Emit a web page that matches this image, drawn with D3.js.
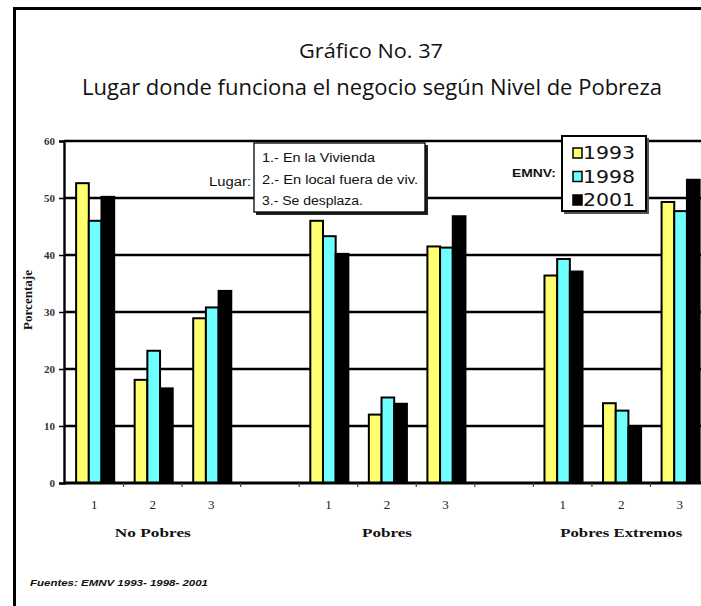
<!DOCTYPE html>
<html>
<head>
<meta charset="utf-8">
<script src="https://cdn.jsdelivr.net/npm/d3@7"></script>
<style>
  html, body { margin: 0; padding: 0; background: #fff; overflow: hidden; }
  svg { display: block; }
</style>
</head>
<body>
<svg id="chart" width="701" height="606"></svg>
<script>
// Poverty level groups and business location (1 = dwelling, 2 = separate premises, 3 = mobile)
const groups = ["No Pobres", "Pobres", "Pobres Extremos"];
const lugares = ["1", "2", "3"];
const years = ["1993", "1998", "2001"];
const yearColors = ["#ffff70", "#70ffff", "#000000"];

// Percentages, ordered group by group, lugar 1..3 within each group
const v1993 = [52.6, 18.1, 28.9, 46.0, 12.0, 41.5, 36.4, 14.0, 49.3];
const v1998 = [46.0, 23.2, 30.8, 43.3, 15.0, 41.3, 39.3, 12.7, 47.7];
const v2001 = [50.2, 16.6, 33.7, 40.2, 13.9, 46.8, 37.1, 9.8, 53.2];

const yTicks = [0, 10, 20, 30, 40, 50, 60];
const lugarLabels = ["1.- En la Vivienda", "2.- En local fuera de viv.", "3.- Se desplaza."];

const title1 = "Gráfico No. 37";
const title2 = "Lugar donde funciona el negocio según Nivel de Pobreza";
const source = "Fuentes: EMNV 1993- 1998- 2001";

const svg = d3.select("#chart");
const serif = "'Liberation Serif', 'DejaVu Serif', serif";
const sans = "'Liberation Sans', Arial, sans-serif";

// Outer frame (top and left edges visible)
svg.append("line").attr("x1", 14.5).attr("x2", 701).attr("y1", 8.5).attr("y2", 8.5)
  .attr("stroke", "#000").attr("stroke-width", 3);
svg.append("line").attr("x1", 14.5).attr("x2", 14.5).attr("y1", 7).attr("y2", 606)
  .attr("stroke", "#000").attr("stroke-width", 3);

// Titles
svg.append("text").attr("x", 371).attr("y", 58).attr("text-anchor", "middle")
  .attr("font-family", "'Open Sans', sans-serif").attr("font-size", 20).attr("fill", "#111")
  .attr("textLength", 144).attr("lengthAdjust", "spacingAndGlyphs")
  .text(title1);
svg.append("text").attr("x", 372).attr("y", 95).attr("text-anchor", "middle")
  .attr("font-family", "'Open Sans', sans-serif").attr("font-size", 21).attr("fill", "#111")
  .attr("textLength", 580).attr("lengthAdjust", "spacingAndGlyphs")
  .text(title2);

// Slot layout: three lugares per group with an empty slot between groups
const slots = [];
groups.forEach((g, gi) => {
  lugares.forEach(l => slots.push(`${gi}-${l}`));
  if (gi < groups.length - 1) slots.push(`gap-${gi}`);
});

const rows = [];
groups.forEach((g, gi) => {
  lugares.forEach((l, li) => {
    const i = gi * lugares.length + li;
    rows.push({ slot: `${gi}-${l}`, lugar: l, values: [v1993[i], v1998[i], v2001[i]] });
  });
});

const x = d3.scaleBand().domain(slots).range([65, 709]).paddingInner(0).paddingOuter(0);
const xInner = d3.scaleBand().domain(years)
  .range([x.bandwidth() * 0.19, x.bandwidth() * 0.84]).padding(0);
const y = d3.scaleLinear().domain([0, 60]).range([483, 141]);

const plotLeft = 64, plotRight = 701;

// Horizontal gridlines
svg.append("g").selectAll("line").data(yTicks.filter(t => t > 0)).join("line")
  .attr("x1", plotLeft).attr("x2", plotRight)
  .attr("y1", d => y(d)).attr("y2", d => y(d))
  .attr("stroke", "#000").attr("stroke-width", 2.6);

// Bars
const slotG = svg.append("g").selectAll("g").data(rows).join("g")
  .attr("transform", d => `translate(${x(d.slot)},0)`);
slotG.selectAll("rect").data(d => d.values.map((v, k) => ({ year: years[k], v, k }))).join("rect")
  .attr("x", d => xInner(d.year))
  .attr("y", d => y(d.v))
  .attr("width", xInner.bandwidth())
  .attr("height", d => y(0) - y(d.v))
  .attr("fill", d => yearColors[d.k])
  .attr("stroke", "#000").attr("stroke-width", 2);

// Y axis
const yAxis = d3.axisLeft(y).tickValues(yTicks).tickSize(5).tickPadding(4);
const gy = svg.append("g").attr("transform", `translate(${plotLeft},0)`).call(yAxis);
gy.select(".domain").attr("stroke", "#000").attr("stroke-width", 2.4);
gy.selectAll(".tick line").attr("stroke", "#000").attr("stroke-width", 1.5);
gy.selectAll(".tick text").attr("font-family", serif).attr("font-size", 11)
  .attr("font-weight", "bold").attr("fill", "#333");

// X axis line with small separators between slots
svg.append("line").attr("x1", plotLeft).attr("x2", plotRight)
  .attr("y1", y(0)).attr("y2", y(0)).attr("stroke", "#000").attr("stroke-width", 3);
svg.append("g").selectAll("line").data(slots.slice(1)).join("line")
  .attr("x1", d => x(d)).attr("x2", d => x(d))
  .attr("y1", y(0)).attr("y2", y(0) + 4)
  .attr("stroke", "#444").attr("stroke-width", 1.2);

// Lugar numbers under each slot
svg.append("g").selectAll("text").data(rows).join("text")
  .attr("x", d => x(d.slot) + x.bandwidth() / 2)
  .attr("y", 509)
  .attr("text-anchor", "middle")
  .attr("font-family", serif).attr("font-size", 13).attr("fill", "#222")
  .text(d => d.lugar);

// Group names
const groupWidths = [76, 50, 122];
svg.append("g").selectAll("text").data(groups).join("text")
  .attr("x", (g, gi) => x(`${gi}-2`) + x.bandwidth() / 2)
  .attr("y", 537)
  .attr("text-anchor", "middle")
  .attr("font-family", serif).attr("font-size", 13).attr("font-weight", "bold").attr("fill", "#111")
  .attr("textLength", (d, i) => groupWidths[i]).attr("lengthAdjust", "spacingAndGlyphs")
  .text(d => d);

// Y axis title
svg.append("text")
  .attr("transform", "translate(32,300) rotate(-90)")
  .attr("text-anchor", "middle")
  .attr("font-family", serif).attr("font-size", 12).attr("font-weight", "bold").attr("fill", "#111")
  .attr("textLength", 60).attr("lengthAdjust", "spacingAndGlyphs")
  .text("Porcentaje");

// Lugar key box
svg.append("text").attr("x", 251).attr("y", 186).attr("text-anchor", "end")
  .attr("font-family", sans).attr("font-size", 12).attr("fill", "#111")
  .attr("textLength", 42).attr("lengthAdjust", "spacingAndGlyphs")
  .text("Lugar:");
svg.append("rect").attr("x", 256).attr("y", 145).attr("width", 172).attr("height", 70).attr("fill", "#222");
svg.append("rect").attr("x", 254).attr("y", 143).attr("width", 171).attr("height", 69)
  .attr("fill", "#fff").attr("stroke", "#000").attr("stroke-width", 1.3);
const lugarWidths = [113, 156, 101];
svg.append("g").selectAll("text").data(lugarLabels).join("text")
  .attr("x", 262).attr("y", (d, i) => 162 + i * 21.5)
  .attr("font-family", sans).attr("font-size", 12).attr("fill", "#111")
  .attr("textLength", (d, i) => lugarWidths[i]).attr("lengthAdjust", "spacingAndGlyphs")
  .text(d => d);

// Year legend
svg.append("text").attr("x", 556).attr("y", 177).attr("text-anchor", "end")
  .attr("font-family", sans).attr("font-size", 11).attr("font-weight", "bold").attr("fill", "#111")
  .attr("textLength", 44).attr("lengthAdjust", "spacingAndGlyphs")
  .text("EMNV:");
svg.append("rect").attr("x", 564).attr("y", 138).attr("width", 85).attr("height", 76).attr("fill", "#555");
svg.append("rect").attr("x", 562).attr("y", 136).attr("width", 84).attr("height", 75)
  .attr("fill", "#fff").attr("stroke", "#000").attr("stroke-width", 2);
const legend = svg.append("g").selectAll("g").data(years).join("g")
  .attr("transform", (d, i) => `translate(0,${i * 23.5})`);
legend.append("rect").attr("x", 573).attr("y", 148).attr("width", 9).attr("height", 10)
  .attr("fill", (d, i) => yearColors[i]).attr("stroke", "#000").attr("stroke-width", 1.5);
legend.append("text").attr("x", 583).attr("y", 159)
  .attr("font-family", "'DejaVu Sans', sans-serif").attr("font-size", 17).attr("fill", "#111")
  .attr("textLength", 52).attr("lengthAdjust", "spacingAndGlyphs")
  .text(d => d);

// Source note
svg.append("text").attr("x", 30).attr("y", 586)
  .attr("font-family", sans).attr("font-size", 9).attr("font-weight", "bold")
  .attr("font-style", "italic").attr("fill", "#111")
  .attr("textLength", 178).attr("lengthAdjust", "spacingAndGlyphs")
  .text(source);
</script>
</body>
</html>
